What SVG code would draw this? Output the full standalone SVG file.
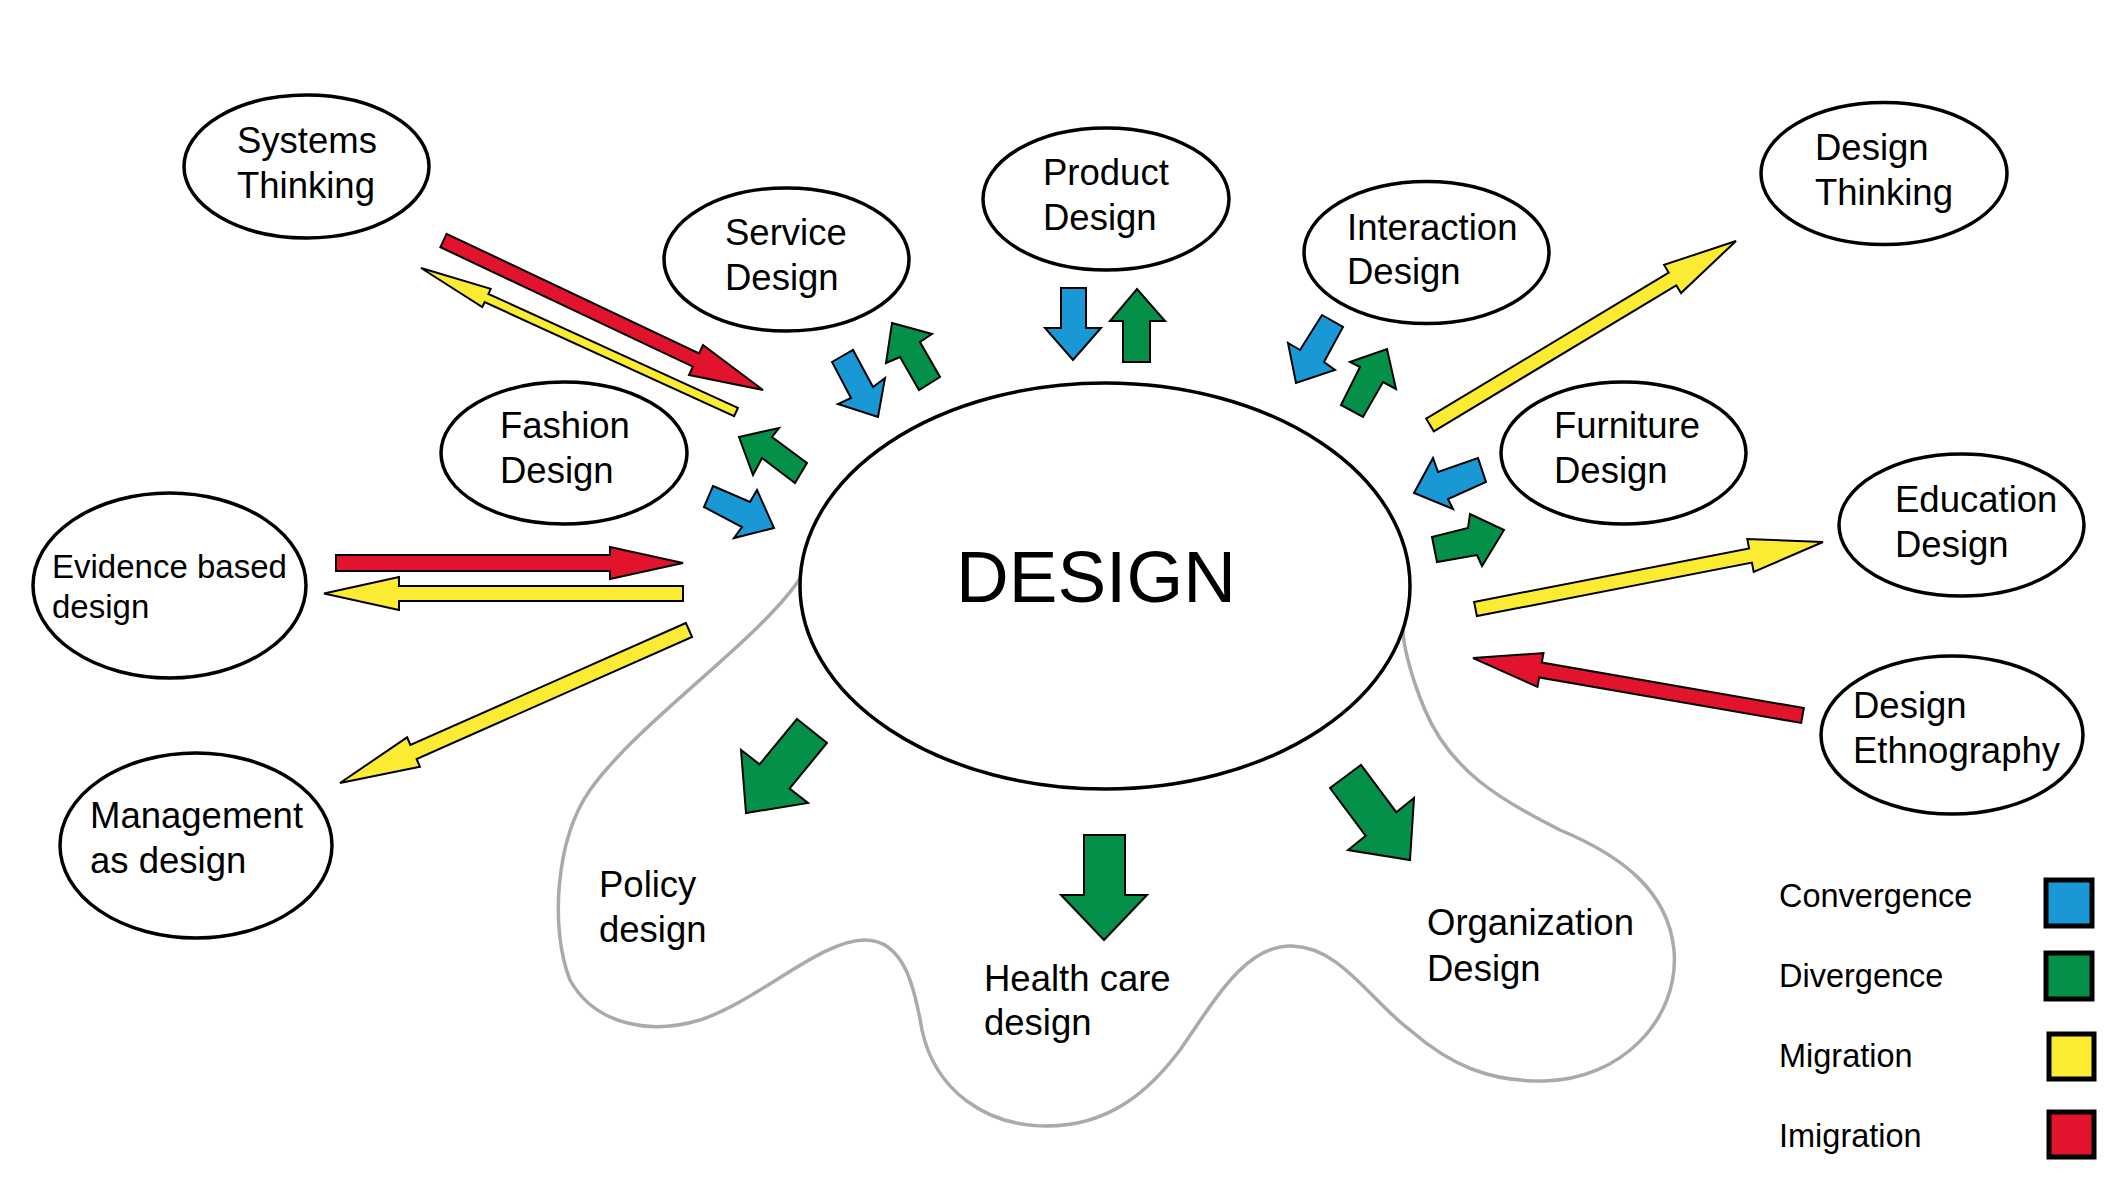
<svg xmlns="http://www.w3.org/2000/svg" width="2126" height="1181" viewBox="0 0 2126 1181">
<style>
.bg{fill:#ffffff}
.node ellipse{fill:#ffffff;stroke:#000000;stroke-width:3.5}
text{font-family:"Liberation Sans",Arial,sans-serif;fill:#000000}
.t{font-size:36.5px}
.ts{font-size:33px}
.big{font-size:73px}
.lg{font-size:32.5px}
.blob{fill:none;stroke:#aaaaaa;stroke-width:3.5}
.ar{stroke:#000000;stroke-width:2;stroke-linejoin:miter}
.blue{fill:#1a98d5}
.green{fill:#05904a}
.yellow{fill:#fbec33}
.red{fill:#e2132c}
.sq{stroke:#000000;stroke-width:5}
</style>
<rect class="bg" x="0" y="0" width="2126" height="1181"/>

<path class="blob" d="M801,577 C760,640 640,720 590,790 C555,840 550,930 570,980 C595,1025 650,1035 700,1020 C760,1000 820,940 865,940 C905,940 915,990 922,1030 C935,1090 985,1126 1047,1126 C1110,1126 1150,1090 1180,1050 C1215,1000 1245,945 1292,946 C1340,947 1370,1000 1410,1030 C1450,1065 1490,1082 1544,1081 C1620,1080 1680,1020 1674,950 C1668,890 1620,855 1560,830 C1500,800 1450,770 1425,710 C1408,670 1403,640 1403,630"/>

<g id="design" class="node">
<ellipse cx="1105" cy="586" rx="305" ry="203"/>
<text class="big" x="956" y="602">DESIGN</text>
</g>

<g id="systems-thinking" class="node">
<ellipse cx="306.5" cy="166.5" rx="122.5" ry="71.5"/>
<text class="t" x="237" y="153">Systems</text>
<text class="t" x="237" y="198">Thinking</text>
</g>
<g id="service-design" class="node">
<ellipse cx="786.5" cy="259.5" rx="122.5" ry="71.5"/>
<text class="t" x="725" y="245">Service</text>
<text class="t" x="725" y="290">Design</text>
</g>
<g id="product-design" class="node">
<ellipse cx="1106" cy="199" rx="123" ry="71"/>
<text class="t" x="1043" y="185">Product</text>
<text class="t" x="1043" y="230">Design</text>
</g>
<g id="interaction-design" class="node">
<ellipse cx="1426.5" cy="252.5" rx="122.5" ry="71"/>
<text class="t" x="1347" y="240">Interaction</text>
<text class="t" x="1347" y="284">Design</text>
</g>
<g id="design-thinking" class="node">
<ellipse cx="1884" cy="173.5" rx="123" ry="71"/>
<text class="t" x="1815" y="160">Design</text>
<text class="t" x="1815" y="205">Thinking</text>
</g>
<g id="fashion-design" class="node">
<ellipse cx="564" cy="453" rx="123" ry="71"/>
<text class="t" x="500" y="438">Fashion</text>
<text class="t" x="500" y="483">Design</text>
</g>
<g id="furniture-design" class="node">
<ellipse cx="1623.5" cy="453" rx="122.5" ry="71"/>
<text class="t" x="1554" y="438">Furniture</text>
<text class="t" x="1554" y="483">Design</text>
</g>
<g id="education-design" class="node">
<ellipse cx="1961.5" cy="525" rx="122.5" ry="71"/>
<text class="t" x="1895" y="512">Education</text>
<text class="t" x="1895" y="557">Design</text>
</g>
<g id="evidence-based-design" class="node">
<ellipse cx="169.5" cy="585.5" rx="136.5" ry="92.5"/>
<text class="ts" x="52" y="578">Evidence based</text>
<text class="ts" x="52" y="618">design</text>
</g>
<g id="management-as-design" class="node">
<ellipse cx="196" cy="845.5" rx="136" ry="92.5"/>
<text class="t" x="90" y="828">Management</text>
<text class="t" x="90" y="873">as design</text>
</g>
<g id="design-ethnography" class="node">
<ellipse cx="1952" cy="735" rx="131" ry="79"/>
<text class="t" x="1853" y="718">Design</text>
<text class="t" x="1853" y="763">Ethnography</text>
</g>

<g id="policy-design">
<text class="t" x="599" y="897">Policy</text>
<text class="t" x="599" y="942">design</text>
</g>
<g id="health-care-design">
<text class="t" x="984" y="991">Health care</text>
<text class="t" x="984" y="1035">design</text>
</g>
<g id="organization-design">
<text class="t" x="1427" y="935">Organization</text>
<text class="t" x="1427" y="981">Design</text>
</g>

<g id="connectors">
<polygon class="ar red" points="446.6,233.8 699.1,353.3 703,345 763,390 689,375 692.9,366.7 440.4,247.2"/>
<polygon class="ar yellow" points="737.9,407.9 488.4,293.9 490.7,288.9 421,268 482.3,307.1 484.6,302.1 734.1,416.1"/>
<polygon class="ar red" points="336,555 610,555 610,547 683,563 610,579 610,571 336,571"/>
<polygon class="ar yellow" points="683,586 399,586 399,577 324,593.5 399,610 399,601 683,601"/>
<polygon class="ar yellow" points="685.9,623 410.4,745 407.1,737.3 340,783 419.9,766.7 416.6,759 692.1,637"/>
<polygon class="ar yellow" points="1426.2,418.7 1668.7,272.7 1664.1,264.9 1736,241 1681,293.1 1676.3,285.3 1433.8,431.3"/>
<polygon class="ar yellow" points="1474.1,601.9 1749.1,548.4 1747.3,539.1 1823,542 1753.7,571.9 1751.9,562.6 1476.9,616.1"/>
<polygon class="ar red" points="1803.8,708.1 1541.8,662.6 1543.5,653.1 1473,658 1537.5,686.9 1539.2,677.4 1801.2,722.9"/>

<polygon class="ar blue" points="832,362 853,350 873,387 885,378 878,417 838,404 851,398"/>
<polygon class="ar green" points="892,323 932,334 920,342 940,377 919,390 900,357 886,363"/>
<polygon class="ar blue" points="1061,288 1086,288 1086,328 1101,328 1073,360 1045,328 1061,328"/>
<polygon class="ar green" points="1123,362 1150,362 1150,321 1165,321 1137,289 1110,321 1123,321"/>
<polygon class="ar blue" points="1322,315 1343,327 1324,362 1335,370 1296,383 1288,343 1300,350"/>
<polygon class="ar green" points="1387,349 1396,389 1383,382 1363,417 1341,405 1360,367 1350,362"/>
<polygon class="ar green" points="739,437 779,428 772,437 807,463 795,483 762,458 753,475"/>
<polygon class="ar blue" points="713,486 750,502 757,490 774,528 734,538 742,527 704,507"/>
<polygon class="ar blue" points="1414,493 1433,458 1438,472 1478,458 1486,482 1448,499 1453,509"/>
<polygon class="ar green" points="1432,537 1468,528 1470,514 1504,530 1482,566 1477,555 1437,562"/>
<polygon class="ar green" points="797,719 827,743 789.5,788.6 808,803 746,813 741,750 759.5,764.4"/>
<polygon class="ar green" points="1084,835 1125,835 1125,895 1147,895 1104,940 1061,895 1084,895"/>
<polygon class="ar green" points="1330,788 1361,765 1396.3,812.2 1414,798 1410,860 1348,850 1365.7,835.8"/>
</g>

<g id="legend">
<text class="lg" x="1779" y="907">Convergence</text>
<rect class="sq blue" x="2046" y="880" width="46" height="46"/>
<text class="lg" x="1779" y="987">Divergence</text>
<rect class="sq green" x="2046" y="953" width="46" height="46"/>
<text class="lg" x="1779" y="1067">Migration</text>
<rect class="sq yellow" x="2049" y="1034" width="45" height="45"/>
<text class="lg" x="1779" y="1147">Imigration</text>
<rect class="sq red" x="2049" y="1112" width="45" height="45"/>
</g>
</svg>
